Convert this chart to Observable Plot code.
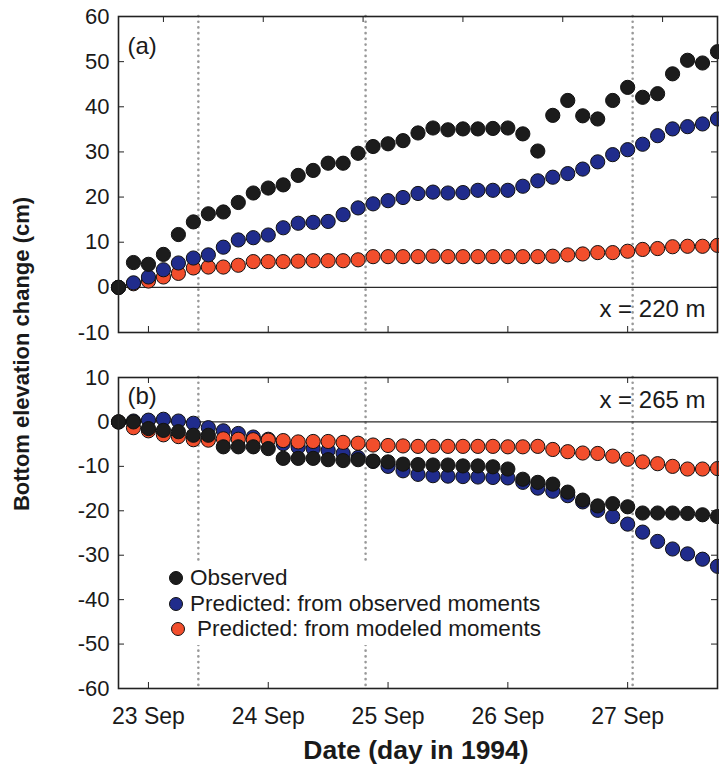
<!DOCTYPE html>
<html><head><meta charset="utf-8">
<script src="https://cdn.jsdelivr.net/npm/d3@7"></script>
<script src="https://cdn.jsdelivr.net/npm/@observablehq/plot@0.6"></script>
<style>
body{margin:0;background:#fff;}
#wrap{position:relative;width:719px;height:774px;overflow:hidden;background:#fff;font-family:"Liberation Sans",Arial,Helvetica,sans-serif;color:#1a1a1a;}
#a,#b{position:absolute;left:0;}
#a{top:0px}
#b{top:340px}
#ylab{position:absolute;left:22px;top:354px;transform:translate(-50%,-50%) rotate(-90deg);font-weight:bold;font-size:22px;white-space:nowrap;}
#xlab{position:absolute;left:416px;top:750px;transform:translate(-50%,-50%);font-weight:bold;font-size:26.5px;white-space:nowrap;}
#legend{position:absolute;left:160px;top:563px;width:400px;height:82px;background:#fff;}
.li{position:absolute;left:9px;white-space:nowrap;font-size:22.5px;line-height:26px;height:26px;}
.li .sw{position:absolute;left:0;top:6px;width:14px;height:14px;border-radius:50%;border:1px solid #111;box-sizing:border-box;}
.li .tx{position:absolute;left:21px;top:0;}
.li:nth-child(1){top:2px}
.li:nth-child(2){top:28px}
.li:nth-child(3){top:53px;left:11px}
.li:nth-child(3) .tx{left:26px}
</style>
</head>
<body>
<div id="wrap">
  <div id="a"></div>
  <div id="b"></div>
  <div id="ylab">Bottom elevation change (cm)</div>
  <div id="xlab">Date (day in 1994)</div>
  <div id="legend"></div>
</div>
<script>
// ---- data ----
const startUTC = Date.UTC(1994, 8, 22, 18); // 22 Sep 1994 18:00
const hoursSinceStart = [0,3,6,9,12,15,18,21,24,27,30,33,36,39,42,45,48,51,54,57,60,63,66,69,72,75,78,81,84,87,90,93,96,99,102,105,108,111,114,117,120];

// Panel (a), x = 220 m
const aObserved = [0,5.5,5.1,7.3,11.7,14.5,16.3,16.7,18.8,20.9,22.0,22.7,24.8,25.9,27.5,27.5,29.7,31.2,31.8,32.5,34.2,35.3,34.9,35.1,35.1,35.2,35.3,34.0,30.2,38.1,41.4,38.0,37.3,41.4,44.3,42.1,42.9,47.3,50.3,49.7,52.2];
const aPredObsMoments = [0,1.0,2.3,3.9,5.4,6.5,7.2,8.9,10.5,11.0,11.6,13.2,14.2,14.4,14.6,16.1,17.6,18.5,19.2,19.9,20.8,21.1,20.9,21.0,21.5,21.5,21.5,22.4,23.6,24.4,25.2,26.2,27.8,29.4,30.5,31.7,33.6,35.1,35.6,36.2,37.3];
const aPredModMoments = [0,0.8,1.4,2.3,3.1,4.3,4.5,4.5,4.9,5.7,5.7,5.7,5.8,5.9,5.9,5.9,6.1,6.8,6.8,6.8,6.8,6.9,6.8,6.8,6.8,6.8,6.8,6.8,6.8,6.9,7.2,7.4,7.7,7.7,8.0,8.4,8.6,9.0,9.1,9.1,9.3];

// Panel (b), x = 265 m
const bObserved = [0,0,-1.5,-1.9,-2.2,-3.0,-3.0,-5.6,-5.6,-5.6,-6.0,-8.2,-8.2,-8.2,-8.5,-8.7,-8.5,-8.8,-9.0,-9.5,-9.6,-9.7,-9.7,-9.9,-9.9,-10.1,-10.6,-12.9,-13.6,-14.0,-15.8,-17.6,-18.9,-18.4,-19.1,-20.5,-20.5,-20.5,-20.6,-20.9,-21.3];
const bPredObsMoments = [0,0.2,0.4,0.6,0.2,-0.3,-1.3,-2.0,-2.6,-3.4,-3.9,-4.9,-5.7,-6.0,-6.4,-7.1,-8.0,-8.9,-10.0,-11.0,-11.8,-12.1,-12.2,-12.3,-12.4,-12.5,-12.6,-13.6,-14.9,-15.6,-16.6,-18.0,-19.9,-21.3,-23.0,-24.8,-26.9,-28.6,-29.7,-30.9,-32.5];
const bPredModMoments = [0,-1.3,-2.0,-2.9,-3.3,-4.0,-4.1,-3.8,-3.9,-4.0,-4.1,-4.2,-4.5,-4.4,-4.4,-4.6,-4.8,-5.2,-5.3,-5.4,-5.5,-5.5,-5.5,-5.5,-5.5,-5.5,-5.6,-5.6,-5.5,-6.2,-6.7,-7.0,-7.1,-7.7,-8.4,-9.0,-9.4,-10.0,-10.6,-10.6,-10.5];

// event times (dotted vertical lines)
const eventTimes = ["1994-09-23T10:00Z","1994-09-24T19:30Z","1994-09-27T01:00Z"];
// tick values
const dayTicks = ["1994-09-23","1994-09-24","1994-09-25","1994-09-26","1994-09-27"];
const aTopTicks = ["1994-09-23T03:00Z","1994-09-23T23:00Z","1994-09-24T19:00Z","1994-09-25T15:00Z","1994-09-26T11:00Z","1994-09-27T07:00Z"];
const aYTicks = [-10,0,10,20,30,40,50,60];
const bYTicks = [-60,-50,-40,-30,-20,-10,0,10];

const seriesNames = ["Observed","Predicted: from observed moments","Predicted: from modeled moments"];
const seriesColors = ["#1c1c1c","#202c8c","#f24e2c"];

// ---- helpers ----
const times = hoursSinceStart.map(h => new Date(startUTC + h * 3600e3));
const xDomain = [times[0], times[times.length - 1]];
const toDates = arr => arr.map(s => new Date(s));

function rows(values, k) { return values.map((v, i) => ({t: times[i], v, k})); }

const W = 719, ML = 118, MR = 2;
const FW = W - ML - MR;

function panel({series, drawOrder, yDomain, yTicks, topTicks, height, mt, mb, tag, site, siteAnchor, siteDy, tagDy, showX}) {
  const FH = height - mt - mb;
  const marks = [
    Plot.ruleX(toDates(eventTimes), {stroke: "#999", strokeWidth: 2.6, strokeDasharray: "0.1,5.6", strokeLinecap: "round"}),
    Plot.ruleY([0], {stroke: "#2a2a2a", strokeWidth: 1.2}),
    // inward ticks
    Plot.tickY(yTicks, {y: d => d, insetRight: FW - 6, stroke: "#222"}),
    Plot.tickY(yTicks, {y: d => d, insetLeft: FW - 6, stroke: "#222"}),
    Plot.tickX(toDates(dayTicks), {x: d => d, insetTop: FH - 6, stroke: "#222"}),
    Plot.tickX(toDates(topTicks), {x: d => d, insetBottom: FH - 6, stroke: "#222"}),
    Plot.axisY(yTicks, {anchor: "left", tickSize: 0, tickPadding: 9, fontSize: 22, label: null, tickFormat: d => String(d)}),
    Plot.text([tag], {frameAnchor: "top-left", lineAnchor: "middle", textAnchor: "start", dx: 9, dy: tagDy, fontSize: 24, fill: "#1a1a1a"}),
    Plot.text([site], {frameAnchor: siteAnchor, lineAnchor: "middle", textAnchor: "end", dx: -12, dy: siteDy, fontSize: 24, fill: "#1a1a1a"})
  ];
  for (const idx of drawOrder) {
    marks.push(Plot.dot(rows(series[idx], idx), {x: "t", y: "v", r: 7.1, fill: seriesColors[idx], stroke: "#111", strokeWidth: 1}));
  }
  marks.push(Plot.frame({stroke: "#222", strokeWidth: 1.6}));
  if (showX) marks.push(Plot.axisX(toDates(dayTicks), {anchor: "bottom", tickSize: 0, tickPadding: 19, fontSize: 23, tickFormat: d3.utcFormat("%-d %b"), label: null}));
  return Plot.plot({
    width: W, height,
    marginLeft: ML, marginRight: MR, marginTop: mt, marginBottom: mb,
    style: {fontFamily: '"Liberation Sans", Arial, Helvetica, sans-serif', fontSize: "22px", color: "#1a1a1a", background: "transparent", overflow: "visible"},
    x: {type: "utc", domain: xDomain, axis: null},
    y: {domain: yDomain, axis: null},
    marks
  });
}

document.getElementById("a").append(panel({
  series: [aObserved, aPredObsMoments, aPredModMoments],
  drawOrder: [2, 1, 0],
  yDomain: [-10, 60], yTicks: aYTicks, topTicks: aTopTicks,
  height: 340, mt: 16, mb: 8,
  tag: "(a)", tagDy: 30, site: "x = 220 m", siteAnchor: "bottom-right", siteDy: -23,
  showX: false
}));

document.getElementById("b").append(panel({
  series: [bObserved, bPredObsMoments, bPredModMoments],
  drawOrder: [1, 2, 0],
  yDomain: [-60, 10], yTicks: bYTicks, topTicks: dayTicks,
  height: 434, mt: 37, mb: 86,
  tag: "(b)", tagDy: 19, site: "x = 265 m", siteAnchor: "top-right", siteDy: 23,
  showX: true
}));

// legend
const lg = document.getElementById("legend");
seriesNames.forEach((name, i) => {
  const item = document.createElement("div");
  item.className = "li";
  const sw = document.createElement("span");
  sw.className = "sw";
  sw.style.background = seriesColors[i];
  const tx = document.createElement("span");
  tx.className = "tx";
  tx.textContent = name;
  item.append(sw, tx);
  lg.append(item);
});
</script>
</body></html>
